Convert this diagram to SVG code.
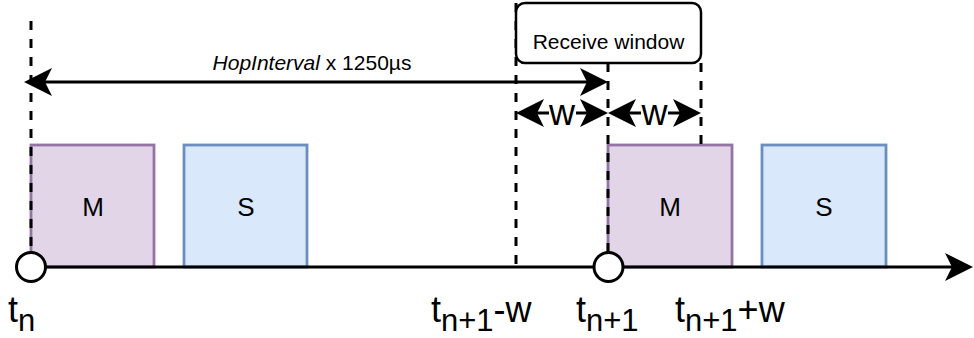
<svg xmlns="http://www.w3.org/2000/svg" width="974" height="338" viewBox="0 0 974 338">
<style>
text{font-family:"Liberation Sans",Arial,sans-serif;fill:#000}
.dash{stroke:#000;stroke-width:3;stroke-dasharray:9 9;fill:none}
.ln{stroke:#000;stroke-width:3;fill:none}
.m{fill:#e1d5e7;stroke:#9673a6;stroke-width:2.8}
.s{fill:#dae8fc;stroke:#6c8ebf;stroke-width:2.8}
.lbl{font-size:26px;text-anchor:middle}
.big{font-size:36px}
.sub{font-size:31px}
</style>
<defs>
<marker id="arr" markerUnits="userSpaceOnUse" markerWidth="28" markerHeight="28" viewBox="0 0 28 28" refX="18" refY="14" orient="auto-start-reverse">
<path d="M28,14 L0,0 L7,14 L0,28 Z" fill="#000"/>
</marker>
</defs>
<rect width="974" height="338" fill="#fff"/>
<g id="m1"><rect class="m" x="31" y="145" width="123" height="122"/><text class="lbl" x="93" y="216">M</text></g>
<g id="s1"><rect class="s" x="184" y="145" width="123" height="122"/><text class="lbl" x="246" y="216">S</text></g>
<g id="m2"><rect class="m" x="608" y="145" width="124" height="122"/><text class="lbl" x="670" y="216">M</text></g>
<g id="s2"><rect class="s" x="762" y="145" width="124" height="122"/><text class="lbl" x="824" y="216">S</text></g>
<g id="connectors">
<line class="dash" x1="31" y1="21" x2="31" y2="253"/>
<line class="dash" x1="516" y1="3" x2="516" y2="267"/>
<line class="dash" x1="608" y1="63" x2="608" y2="253"/>
<line class="dash" x1="701" y1="63" x2="701" y2="145"/>
<line class="ln" x1="31" y1="267" x2="963" y2="267" marker-end="url(#arr)"/>
<line class="ln" x1="34" y1="82" x2="598" y2="82" marker-start="url(#arr)" marker-end="url(#arr)"/>
<text x="312" y="70" font-size="21" text-anchor="middle"><tspan font-style="italic">HopInterval</tspan> x 1250µs</text>
<line class="ln" x1="526" y1="113" x2="598" y2="113" marker-start="url(#arr)" marker-end="url(#arr)"/>
<rect x="549" y="104" width="27" height="18" fill="#fff"/>
<text x="562" y="125" font-size="36" text-anchor="middle">w</text>
<line class="ln" x1="618" y1="113" x2="691" y2="113" marker-start="url(#arr)" marker-end="url(#arr)"/>
<rect x="641" y="104" width="27" height="18" fill="#fff"/>
<text x="654.5" y="125" font-size="36" text-anchor="middle">w</text>
</g>
<g id="window"><rect x="516" y="3" width="185" height="60" rx="9" fill="#fff" stroke="#000" stroke-width="2.5"/><text x="608.5" y="49" font-size="21" text-anchor="middle">Receive window</text></g>
<g id="tn"><circle cx="31" cy="267" r="14.5" fill="#fff" stroke="#000" stroke-width="3"/><text x="8" y="322" class="big">t<tspan class="sub" dy="9">n</tspan></text></g>
<g id="tn1"><circle cx="608.5" cy="267" r="14.5" fill="#fff" stroke="#000" stroke-width="3"/><text x="576" y="322" class="big">t<tspan class="sub" dy="9">n+1</tspan></text></g>
<g id="tn1w-minus"><text x="431" y="322" class="big">t<tspan class="sub" dy="9">n+1</tspan><tspan dy="-9">-w</tspan></text></g>
<g id="tn1w-plus"><text x="675" y="322" class="big">t<tspan class="sub" dy="9">n+1</tspan><tspan dy="-9">+w</tspan></text></g>
</svg>
